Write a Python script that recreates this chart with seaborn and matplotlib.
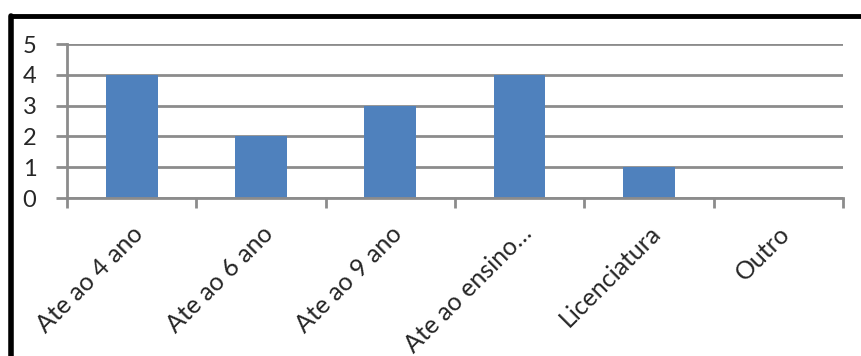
import matplotlib
matplotlib.use("Agg")
import matplotlib.pyplot as plt
import seaborn as sns
import pandas as pd
import numpy as np
from matplotlib.lines import Line2D

# data
categories = ["Ate ao 4 ano", "Ate ao 6 ano", "Ate ao 9 ano", "Ate ao ensino…", "Licenciatura", "Outro"]
counts = [4, 2, 3, 4, 1, 0]
y_ticks = [0, 1, 2, 3, 4, 5]

df = pd.DataFrame({"categoria": categories, "n": counts})

sns.set_theme(style="white")
plt.rcParams["font.family"] = ["Lato", "DejaVu Sans"]

fig = plt.figure(figsize=(8.61, 3.56), dpi=100)
ax = fig.add_axes([0.0778, 0.4438, 0.9012, 0.4326])

sns.barplot(data=df, x="categoria", y="n", color="#4F81BD", saturation=1,
            width=0.4, linewidth=0, ax=ax)

grid_c = "#8C8C8C"
ax.set_ylim(0, 5)
ax.set_xlim(-0.5, len(categories) - 0.5)
ax.set_yticks(y_ticks)
ax.yaxis.grid(True, color=grid_c, linewidth=2)
ax.set_axisbelow(True)
for s in ["top", "right"]:
    ax.spines[s].set_visible(False)
for s in ["left", "bottom"]:
    ax.spines[s].set_color(grid_c)
    ax.spines[s].set_linewidth(2)

ax.tick_params(axis="y", direction="out", length=8, width=2, color=grid_c,
               labelsize=17, pad=14, left=True)
ax.set_xticks(np.arange(len(categories)))
ax.set_xticklabels(categories, rotation=45, ha="right", rotation_mode="anchor")
ax.tick_params(axis="x", which="major", length=0, labelsize=18, pad=17)
ax.set_xticks(np.arange(-0.5, len(categories)), minor=True)
ax.tick_params(axis="x", which="minor", direction="out", length=7, width=2,
               color=grid_c, bottom=True)

ax.set_xlabel("")
ax.set_ylabel("")

# black frame (only top and left visible in the crop)
fig.add_artist(Line2D([0.0122, 1.0], [0.956, 0.956], color="black", linewidth=3.5,
                      transform=fig.transFigure))
fig.add_artist(Line2D([0.0122, 0.0122], [0.0, 0.956], color="black", linewidth=4,
                      transform=fig.transFigure))

fig.savefig("out.png", dpi=100)
plt.close(fig)
